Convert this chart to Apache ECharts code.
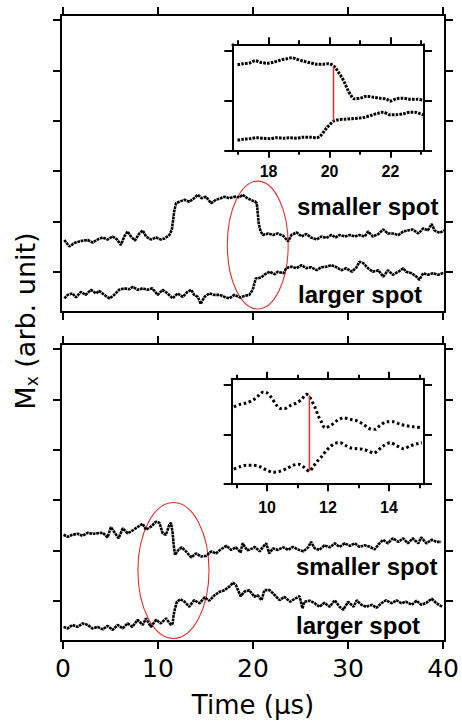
<!DOCTYPE html>
<html>
<head>
<meta charset="utf-8">
<script src="https://cdn.jsdelivr.net/npm/echarts/dist/echarts.min.js"></script>
<style>
html,body{margin:0;padding:0;background:#fff;}
#c{width:462px;height:723px;}
</style>
</head>
<body>
<div id="c"></div>
<script>
// ---------- data ----------
const xTicks = [0, 10, 20, 30, 40];
const yTicks = [8, 18, 28, 38, 48, 58];
const insetTopTicks = [18, 20, 22];
const insetTopMinor = [17, 19, 21, 23];
const insetBotTicks = [10, 12, 14];
const insetBotMinor = [9, 11, 13, 15];
const insetYTicks = [0, 1, 2];

const topSmaller = [[0.15,14.3],[0.67,13.0],[1.2,13.7],[1.9,14.1],[2.6,14.3],[3.13,13.8],[3.65,14.4],[4.18,14.8],[4.7,14.4],[5.23,15.0],[5.7,14.4],[6.1,13.3],[6.46,15.0],[6.8,16.0],[7.16,15.0],[7.58,14.2],[8.04,15.6],[8.4,16.2],[8.74,15.0],[9.26,14.4],[9.8,14.8],[10.3,14.4],[10.7,14.6],[11.2,15.3],[11.45,16.3],[11.6,18.3],[11.7,19.9],[11.9,21.6],[12.25,21.9],[12.8,22.3],[13.3,21.9],[13.8,22.6],[14.2,23.3],[14.6,22.6],[15.05,22.9],[15.6,21.6],[16.1,22.3],[16.6,22.6],[17.0,22.9],[17.5,22.6],[18.04,22.9],[18.6,22.8],[18.9,23.3],[19.4,22.6],[19.97,22.1],[20.2,22.0],[20.4,21.6],[20.5,19.6],[20.6,17.6],[20.8,16.0],[21.05,15.3],[21.6,15.6],[22.1,15.3],[22.6,15.6],[23.2,15.1],[23.7,14.0],[24.04,15.3],[24.6,15.8],[25.1,15.0],[25.6,15.5],[26.1,14.8],[26.7,14.4],[27.2,15.0],[27.7,14.7],[28.25,15.3],[28.7,14.8],[29.1,15.3],[29.65,15.0],[30.2,15.3],[30.7,15.0],[31.2,15.3],[31.75,15.0],[32.1,16.0],[32.6,15.0],[33.2,15.5],[33.7,16.4],[34.2,15.6],[34.7,15.6],[35.3,15.3],[35.8,16.0],[36.3,16.2],[36.8,16.4],[37.4,15.6],[37.9,16.6],[38.4,16.2],[38.8,17.5],[39.1,16.2],[39.65,15.7],[40.1,16.2]];

const topLarger = [[0.15,2.7],[0.5,3.4],[1.0,3.7],[1.37,2.9],[1.9,4.0],[2.4,3.4],[2.95,4.4],[3.5,3.7],[3.8,4.2],[4.36,3.4],[4.9,2.7],[5.4,3.4],[5.9,4.4],[6.46,4.7],[7.0,4.5],[7.34,5.0],[7.86,4.4],[8.4,4.7],[8.9,4.4],[9.4,4.7],[9.97,3.4],[10.5,4.4],[11.0,3.7],[11.55,2.7],[12.07,3.7],[12.6,3.0],[13.1,4.0],[13.5,4.4],[13.8,3.4],[14.2,3.0],[14.5,1.6],[14.9,3.0],[15.4,3.7],[15.9,3.4],[16.5,3.4],[17.0,3.0],[17.5,2.7],[18.04,3.4],[18.6,2.9],[19.1,3.2],[19.6,3.4],[19.97,4.4],[20.15,5.7],[20.3,6.7],[20.5,6.7],[20.9,6.9],[21.2,7.4],[21.75,8.0],[22.3,7.5],[22.6,8.0],[23.2,7.7],[23.5,8.7],[24.04,9.0],[24.6,8.7],[25.1,9.3],[25.6,8.7],[26.1,8.9],[26.7,8.3],[27.2,8.9],[27.7,9.0],[28.25,9.3],[28.8,8.9],[29.3,8.3],[29.8,8.7],[30.4,8.0],[30.9,8.9],[31.2,10.0],[31.6,9.7],[32.1,8.7],[32.6,8.0],[33.2,8.3],[33.7,7.0],[34.2,8.3],[34.7,7.4],[35.3,8.0],[35.8,8.7],[36.1,8.0],[36.7,7.7],[37.2,7.0],[37.5,6.4],[37.9,7.7],[38.4,7.4],[38.95,7.7],[39.5,7.4],[40.1,7.8]];

const botSmaller = [[0.07,21.1],[0.5,20.7],[1.0,21.1],[1.55,21.3],[2.07,20.9],[2.6,21.5],[3.1,21.3],[3.65,21.4],[4.2,21.5],[4.7,20.6],[5.05,22.6],[5.6,21.1],[5.86,20.4],[6.3,22.4],[6.8,21.4],[7.3,21.9],[7.9,22.7],[8.4,23.3],[8.74,22.1],[9.26,22.7],[9.8,23.7],[10.15,23.5],[10.5,21.4],[10.85,21.1],[11.2,23.1],[11.37,23.5],[11.55,21.4],[11.65,19.1],[11.8,17.1],[12.15,18.1],[12.5,18.6],[12.95,17.8],[13.5,16.6],[14.0,17.4],[14.5,16.8],[15.05,16.9],[15.6,17.8],[16.1,17.4],[16.6,18.2],[17.2,18.9],[17.7,18.1],[18.2,18.6],[18.7,17.6],[18.9,19.4],[19.4,18.0],[19.97,18.4],[20.2,18.7],[20.7,17.8],[21.05,18.7],[21.4,19.4],[21.7,17.4],[22.1,18.4],[22.6,18.1],[23.2,18.6],[23.7,18.1],[24.2,18.7],[24.7,18.2],[25.3,17.8],[25.8,18.6],[26.1,19.7],[26.5,18.4],[27.0,18.1],[27.5,19.0],[28.07,18.6],[28.6,19.4],[29.1,18.7],[29.65,19.4],[30.2,18.9],[30.7,19.4],[31.2,18.7],[31.75,19.0],[32.3,18.7],[32.8,18.2],[33.3,19.4],[33.7,20.1],[34.2,19.4],[34.7,20.4],[35.3,19.7],[35.8,20.4],[36.3,19.4],[36.8,20.4],[37.4,19.4],[37.7,20.6],[38.25,19.4],[38.8,20.1],[39.3,19.7],[39.8,19.7]];

const botLarger = [[0.07,2.8],[0.5,2.5],[1.0,3.2],[1.55,2.8],[2.07,3.5],[2.6,3.2],[3.1,2.5],[3.65,2.8],[4.2,2.3],[4.7,3.0],[5.23,2.2],[5.76,3.2],[6.3,2.5],[6.8,3.5],[7.3,2.8],[7.86,4.2],[8.4,3.2],[8.74,4.5],[9.26,2.8],[9.8,4.2],[10.3,3.5],[10.85,4.5],[11.37,3.2],[11.55,3.5],[11.65,5.2],[11.8,6.5],[12.0,7.8],[12.35,8.3],[12.8,7.8],[13.3,6.8],[13.8,8.1],[14.4,7.5],[14.9,8.7],[15.4,8.0],[15.9,9.0],[16.5,9.8],[17.0,10.1],[17.5,10.8],[17.9,11.6],[18.2,11.1],[18.7,8.9],[19.1,9.8],[19.6,10.1],[20.15,8.8],[20.5,9.1],[20.9,8.1],[21.2,10.1],[21.75,10.1],[22.3,9.1],[22.8,8.1],[23.3,8.8],[23.9,7.8],[24.4,8.4],[24.9,8.9],[25.2,6.5],[25.4,7.8],[25.97,8.0],[26.5,7.5],[27.0,6.8],[27.5,7.6],[28.07,6.8],[28.6,8.1],[29.1,6.8],[29.5,6.2],[30.0,7.8],[30.6,6.8],[30.9,8.1],[31.4,7.2],[31.9,6.8],[32.5,7.2],[33.0,6.6],[33.5,7.5],[34.0,8.1],[34.6,7.5],[35.1,8.1],[35.6,7.5],[36.1,7.8],[36.7,7.2],[37.2,8.0],[37.7,7.2],[38.25,7.6],[38.8,8.4],[39.3,7.5],[39.9,6.8]];

const insetTopUpper = [[16.98,1.72],[17.17,1.74],[17.4,1.76],[17.56,1.80],[17.72,1.77],[17.94,1.75],[18.16,1.77],[18.38,1.81],[18.6,1.84],[18.76,1.86],[18.92,1.83],[19.14,1.79],[19.36,1.76],[19.58,1.73],[19.8,1.73],[19.96,1.74],[20.07,1.72],[20.18,1.67],[20.29,1.57],[20.4,1.47],[20.51,1.34],[20.62,1.19],[20.7,1.11],[20.8,1.04],[21.0,1.05],[21.22,1.09],[21.44,1.07],[21.66,1.05],[21.88,1.03],[21.98,0.99],[22.2,1.04],[22.42,1.05],[22.64,1.03],[22.86,1.03],[23.08,1.01]];
const insetTopLower = [[16.98,0.21],[17.17,0.23],[17.4,0.24],[17.6,0.26],[17.83,0.25],[18.05,0.24],[18.27,0.26],[18.49,0.25],[18.7,0.26],[18.92,0.25],[19.14,0.27],[19.36,0.27],[19.58,0.26],[19.69,0.29],[19.8,0.37],[19.9,0.45],[20.02,0.53],[20.13,0.59],[20.29,0.62],[20.51,0.63],[20.73,0.64],[20.94,0.65],[21.16,0.67],[21.38,0.71],[21.6,0.75],[21.76,0.77],[21.98,0.72],[22.2,0.72],[22.42,0.74],[22.64,0.77],[22.8,0.77],[22.97,0.74],[23.08,0.72]];
const insetTopMark = [[20.13,0.60],[20.13,1.69]];

const insetBotUpper = [[8.91,1.55],[9.11,1.60],[9.33,1.63],[9.55,1.69],[9.71,1.77],[9.88,1.85],[10.0,1.83],[10.15,1.73],[10.29,1.60],[10.42,1.52],[10.56,1.51],[10.75,1.57],[10.97,1.63],[11.14,1.70],[11.28,1.80],[11.36,1.78],[11.47,1.67],[11.58,1.53],[11.68,1.37],[11.8,1.23],[11.9,1.13],[12.07,1.17],[12.29,1.27],[12.5,1.33],[12.73,1.30],[12.95,1.27],[13.16,1.20],[13.38,1.11],[13.55,1.10],[13.71,1.18],[13.93,1.25],[14.15,1.25],[14.37,1.20],[14.59,1.17],[14.81,1.15],[15.08,1.13]];
const insetBotLower = [[8.91,0.30],[9.11,0.35],[9.33,0.38],[9.55,0.38],[9.77,0.35],[9.99,0.28],[10.2,0.24],[10.42,0.26],[10.64,0.31],[10.86,0.38],[11.03,0.40],[11.19,0.35],[11.39,0.26],[11.52,0.36],[11.65,0.46],[11.8,0.56],[11.94,0.67],[12.07,0.75],[12.23,0.82],[12.4,0.83],[12.56,0.78],[12.73,0.73],[12.95,0.71],[13.16,0.70],[13.38,0.65],[13.49,0.62],[13.66,0.69],[13.82,0.77],[14.04,0.83],[14.26,0.77],[14.48,0.71],[14.7,0.77],[14.92,0.81],[15.08,0.83]];
const insetBotMark = [[11.39,0.26],[11.39,1.78]];

// ellipse annotations: [centerTime, centerValue, radiusTime, radiusValue]
const ellipseTop = [20.5, 13.3, 3.2, 12.7];
const ellipseBot = [11.63, 14.0, 3.74, 13.5];

// ---------- chart ----------
const chart = echarts.init(document.getElementById('c'), null, {renderer: 'svg'});
const BLACK = '#000';
const RED = '#e5302c';

function xAx(grid, pos, min, max, ticks, tickLen, opts) {
  opts = opts || {};
  return Object.assign({
    type: 'value', gridIndex: grid, position: pos, min: min, max: max,
    axisLine: {show: opts.line !== false, onZero: false, lineStyle: {color: BLACK, width: 2}},
    axisTick: {show: true, inside: false, length: tickLen, customValues: ticks, lineStyle: {color: BLACK, width: 2}},
    axisLabel: {show: false},
    splitLine: {show: false}
  }, opts.extra || {});
}
function yAx(grid, pos, min, max, ticks, tickLen, show) {
  return {
    type: 'value', gridIndex: grid, position: pos, min: min, max: max, show: show !== false,
    axisLine: {show: true, onZero: false, lineStyle: {color: BLACK, width: 2}},
    axisTick: {show: true, inside: false, length: tickLen, customValues: ticks, lineStyle: {color: BLACK, width: 2}},
    axisLabel: {show: false},
    splitLine: {show: false}
  };
}

const mainX = [-0.2, 40.2];
const mainY = [0, 59];
const itX = [16.81, 23.1];
const ibX = [8.84, 15.15];
const itY = [0, 2.128];
const ibY = [0, 2.114];

const grids = [
  {left: 61, top: 15, width: 384, height: 297},
  {left: 61, top: 344, width: 384, height: 297},
  {left: 232.3, top: 44.3, width: 191.7, height: 106.4},
  {left: 231.7, top: 378.7, width: 192.3, height: 105.5},
  {left: 232.3, top: 44.3, width: 191.7, height: 106.4},
  {left: 231.7, top: 378.7, width: 192.3, height: 105.5}
];

const xAxes = [
  xAx(0, 'bottom', mainX[0], mainX[1], xTicks, 8),
  xAx(0, 'top', mainX[0], mainX[1], xTicks, 8),
  xAx(1, 'bottom', mainX[0], mainX[1], xTicks, 8, {extra: {
    axisLabel: {show: true, customValues: xTicks, color: BLACK, fontSize: 25, fontFamily: 'DejaVu Sans', margin: 15},
    name: 'Time (\u03bcs)', nameLocation: 'middle', nameGap: 51,
    nameTextStyle: {color: BLACK, fontSize: 26, fontFamily: 'DejaVu Sans'}
  }}),
  xAx(1, 'top', mainX[0], mainX[1], xTicks, 8),
  xAx(2, 'bottom', itX[0], itX[1], insetTopTicks, 7, {extra: {
    axisLabel: {show: true, customValues: insetTopTicks, color: BLACK, fontSize: 16, fontWeight: 'bold', fontFamily: 'Liberation Sans', margin: 13}
  }}),
  xAx(2, 'top', itX[0], itX[1], insetTopTicks, 7),
  xAx(3, 'bottom', ibX[0], ibX[1], insetBotTicks, 7, {extra: {
    axisLabel: {show: true, customValues: insetBotTicks, color: BLACK, fontSize: 16, fontWeight: 'bold', fontFamily: 'Liberation Sans', margin: 15}
  }}),
  xAx(3, 'top', ibX[0], ibX[1], insetBotTicks, 7),
  xAx(4, 'bottom', itX[0], itX[1], insetTopMinor, 4, {line: false}),
  xAx(4, 'top', itX[0], itX[1], insetTopMinor, 4, {line: false}),
  xAx(5, 'bottom', ibX[0], ibX[1], insetBotMinor, 4, {line: false}),
  xAx(5, 'top', ibX[0], ibX[1], insetBotMinor, 4, {line: false})
];

const yAxes = [
  yAx(0, 'left', mainY[0], mainY[1], yTicks, 8),
  yAx(0, 'right', mainY[0], mainY[1], yTicks, 8),
  yAx(1, 'left', mainY[0], mainY[1], yTicks, 8),
  yAx(1, 'right', mainY[0], mainY[1], yTicks, 8),
  yAx(2, 'left', itY[0], itY[1], insetYTicks, 8),
  yAx(2, 'right', itY[0], itY[1], insetYTicks, 8),
  yAx(3, 'left', ibY[0], ibY[1], insetYTicks, 8),
  yAx(3, 'right', ibY[0], ibY[1], insetYTicks, 8),
  yAx(4, 'left', itY[0], itY[1], [], 0, false),
  yAx(5, 'left', ibY[0], ibY[1], [], 0, false)
];

function trace(data, xi, yi, style, smooth) {
  return {
    type: 'line', data: data, xAxisIndex: xi, yAxisIndex: yi,
    showSymbol: false, symbol: 'none', smooth: smooth || false,
    lineStyle: style, silent: true, animation: false
  };
}
const mainStyle = {color: '#000', width: 2.6, type: [2.8, 0.7]};
const insetTopStyle = {color: '#000', width: 3, type: [2.6, 1.2]};
const insetBotStyle = {color: '#000', width: 3, type: [2.6, 2.6]};
const markStyle = {color: RED, width: 1.5, type: 'solid'};

const series = [
  trace(topSmaller, 0, 0, mainStyle),
  trace(topLarger, 0, 0, mainStyle),
  trace(botSmaller, 2, 2, mainStyle),
  trace(botLarger, 2, 2, mainStyle),
  trace(insetTopUpper, 4, 4, insetTopStyle, 0.3),
  trace(insetTopLower, 4, 4, insetTopStyle, 0.3),
  trace(insetTopMark, 4, 4, markStyle),
  trace(insetBotUpper, 6, 6, insetBotStyle, 0.3),
  trace(insetBotLower, 6, 6, insetBotStyle, 0.3),
  trace(insetBotMark, 6, 6, markStyle)
];

const labelFont = 'bold 24px "Liberation Sans", Arial, sans-serif';
const graphicTexts = [
  {type: 'text', x: 297, y: 206, style: {text: 'smaller spot', font: labelFont, fill: BLACK, align: 'left', verticalAlign: 'middle'}},
  {type: 'text', x: 298, y: 294, style: {text: 'larger spot', font: labelFont, fill: BLACK, align: 'left', verticalAlign: 'middle'}},
  {type: 'text', x: 296, y: 566.5, style: {text: 'smaller spot', font: labelFont, fill: BLACK, align: 'left', verticalAlign: 'middle'}},
  {type: 'text', x: 296, y: 625, style: {text: 'larger spot', font: labelFont, fill: BLACK, align: 'left', verticalAlign: 'middle'}},
  {type: 'text', x: 25, y: 321, rotation: Math.PI / 2,
    style: {
      text: '{m|M}{s|x}{m| (arb. unit)}', align: 'center', verticalAlign: 'middle',
      rich: {
        m: {fontSize: 27, fontFamily: 'DejaVu Sans', fill: BLACK, lineHeight: 31},
        s: {fontSize: 17, fontFamily: 'DejaVu Sans', fill: BLACK, verticalAlign: 'bottom', lineHeight: 31}
      }
    }}
];

chart.setOption({
  animation: false,
  backgroundColor: '#fff',
  grid: grids,
  xAxis: xAxes,
  yAxis: yAxes,
  series: series,
  graphic: graphicTexts
});

function ellipseGraphic(e, xi, yi) {
  const c = chart.convertToPixel({xAxisIndex: xi, yAxisIndex: yi}, [e[0], e[1]]);
  const px = chart.convertToPixel({xAxisIndex: xi, yAxisIndex: yi}, [e[0] + e[2], e[1]]);
  const py = chart.convertToPixel({xAxisIndex: xi, yAxisIndex: yi}, [e[0], e[1] + e[3]]);
  return {type: 'ellipse', shape: {cx: c[0], cy: c[1], rx: Math.abs(px[0] - c[0]), ry: Math.abs(c[1] - py[1])},
    style: {fill: 'none', stroke: RED, lineWidth: 1.1}, silent: true};
}

chart.setOption({
  graphic: graphicTexts.concat([ellipseGraphic(ellipseTop, 0, 0), ellipseGraphic(ellipseBot, 2, 2)])
});
</script>
</body>
</html>
